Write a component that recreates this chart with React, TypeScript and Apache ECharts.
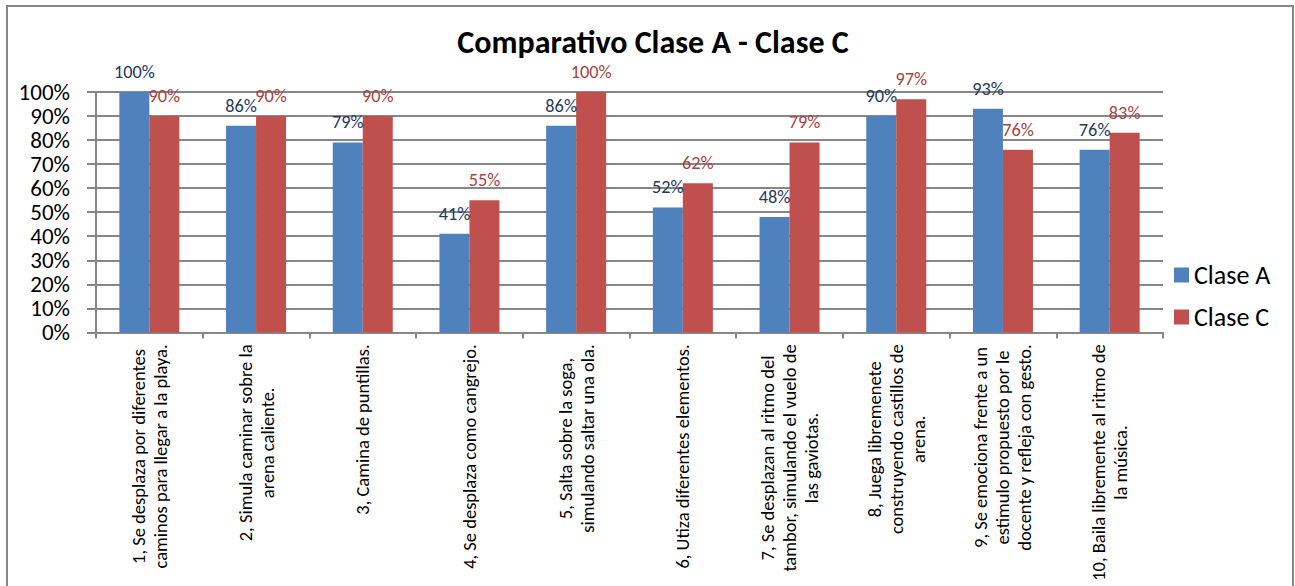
import React, { useEffect, useRef } from "react";
import * as echarts from "echarts";

const categories = [
  "1, Se desplaza por diferentes\ncaminos para llegar a la playa.",
  "2, Simula caminar sobre la\narena caliente.",
  "3, Camina de puntillas.",
  "4, Se desplaza como cangrejo.",
  "5, Salta sobre la soga,\nsimulando saltar una ola.",
  "6, Utiza diferentes elementos.",
  "7, Se desplazan al ritmo del\ntambor, simulando el vuelo de\nlas gaviotas.",
  "8, Juega libremenete\nconstruyendo castillos de\narena.",
  "9, Se emociona frente a un\nestimulo propuesto por le\ndocente y refleja con gesto.",
  "10, Baila libremente al ritmo de\nla música.",
];
const claseA = [100, 86, 79, 41, 86, 52, 48, 90, 93, 76];
const claseC = [90, 90, 90, 55, 100, 62, 79, 97, 76, 83];
const seriesNames = ["Clase A", "Clase C"];
const titleText = "Comparativo Clase A - Clase C";

const FONT = 'Carlito, Calibri, Lato, sans-serif';

export default function App() {
  const ref = useRef<HTMLDivElement>(null);
  useEffect(() => {
    if (!ref.current) return;
    const chart = echarts.init(ref.current, null, { renderer: "svg" });
    const gray = "#878787";
    chart.setOption({
      animation: false,
      backgroundColor: "#ffffff",
      textStyle: { fontFamily: FONT },
      title: {
        text: titleText,
        left: 648,
        textAlign: "center",
        top: 21,
        textStyle: { fontFamily: FONT, fontSize: 32, fontWeight: "bold", color: "#000" },
      },
      legend: {
        orient: "vertical",
        left: 1169,
        top: 257,
        itemWidth: 15,
        itemHeight: 15,
        itemGap: 16,
        icon: "rect",
        data: seriesNames,
        textStyle: { fontFamily: FONT, fontSize: 26, color: "#000" },
      },
      grid: {
        left: 96,
        top: 92,
        width: 1067,
        height: 240.4,
        outerBoundsMode: "none",
        containLabel: false,
      },
      graphic: [
        {
          type: "rect",
          shape: { x: 7, y: 6, width: 1286, height: 700 },
          style: { fill: "none", stroke: gray, lineWidth: 2 },
          silent: true,
          z: -1,
        },
      ],
      xAxis: {
        type: "category",
        data: categories,
        axisLine: { lineStyle: { color: gray, width: 2 } },
        axisTick: { show: true, length: 6, alignWithLabel: false, lineStyle: { color: gray, width: 2 } },
        axisLabel: {
          interval: 0,
          rotate: 90,
          margin: 12,
          hideOverlap: false,
          fontFamily: FONT,
          fontSize: 18.5,
          color: "#000",
          lineHeight: 22,
          formatter: (v: string) =>
            v
              .split("\n")
              .map((l) => "{c|" + l + "}")
              .join("\n"),
          rich: {
            c: { align: "center", fontFamily: FONT, fontSize: 18.5, lineHeight: 22, color: "#000" },
          },
        },
      },
      yAxis: {
        type: "value",
        min: 0,
        max: 100,
        interval: 10,
        axisLine: { show: true, lineStyle: { color: gray, width: 2 } },
        axisTick: { show: true, length: 9, lineStyle: { color: gray, width: 2 } },
        splitLine: { lineStyle: { color: gray, width: 2 } },
        axisLabel: {
          formatter: "{value}%",
          margin: 26,
          fontFamily: FONT,
          fontSize: 23,
          color: "#000",
        },
      },
      series: [
        {
          name: seriesNames[0],
          type: "bar",
          data: claseA,
          barWidth: 30,
          barGap: "0%",
          itemStyle: { color: "#4F81BD" },
          label: {
            show: true,
            position: "top",
            distance: 11,
            formatter: "{c}%",
            fontFamily: FONT,
            fontSize: 18.3,
            color: "#1F3A5F",
          },
        },
        {
          name: seriesNames[1],
          type: "bar",
          data: claseC,
          barWidth: 30,
          barGap: "0%",
          itemStyle: { color: "#C0504D" },
          label: {
            show: true,
            position: "top",
            distance: 11,
            formatter: "{c}%",
            fontFamily: FONT,
            fontSize: 18.3,
            color: "#A84442",
          },
        },
      ],
    });
    return () => chart.dispose();
  }, []);
  return (
    <div
      ref={ref}
      style={{ position: "fixed", left: 0, top: 0, width: 1295, height: 586, background: "#fff" }}
    />
  );
}
